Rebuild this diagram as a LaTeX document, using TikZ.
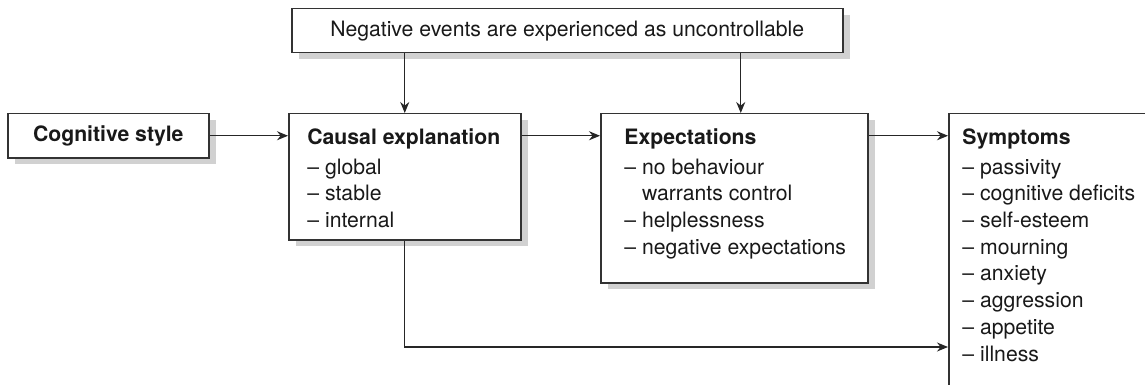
\documentclass[tikz,border=0pt]{standalone}
\usepackage{fontspec}
\setmainfont{TeX Gyre Heros}
\usetikzlibrary{arrows.meta,shadows}

\newcommand{\diagfont}{\fontsize{10.6}{13.35}\selectfont}

\tikzset{
  box/.style={draw=black!80, line width=0.75pt, fill=white, inner sep=0pt,
    anchor=north west,
    drop shadow={shadow xshift=3.5pt, shadow yshift=-3pt, opacity=1, fill=black!18}},
  boxtext/.style={anchor=north west, inner sep=0pt, align=left, text=black!90},
  arrow/.style={draw=black!85, line width=0.6pt, -{Stealth[length=5.5pt,width=4.5pt]}}
}

\begin{document}
\begin{tikzpicture}[x=0.5pt,y=-0.5pt,font=\diagfont]
  \useasboundingbox (0,0) rectangle (1145,385);
  \clip (0,0) rectangle (1145,385);
  % boxes
  \node[box, minimum width=275.5pt, minimum height=22pt, text=black!90] (events) at (291,8)
    {Negative events are experienced as uncontrollable};
  \node[box, minimum width=100.5pt, minimum height=22pt, text=black!90,
    font=\diagfont\bfseries] (style) at (7,113) {Cognitive style};
  \node[box, minimum width=116pt, minimum height=63pt] (causal) at (288,113) {};
  \node[box, minimum width=133.5pt, minimum height=84.5pt] (expect) at (600,113) {};
  \node[box, minimum width=102pt, minimum height=141pt] (symptoms) at (948,113) {};
  % box texts
  \node[boxtext] (causaltext) at (307,128)
    {\textbf{Causal explanation}\\[1.65pt] – global\\ – stable\\ – internal};
  \node[boxtext] (expecttext) at (624,128)
    {\textbf{Expectations}\\[1.65pt] – no behaviour\\ \phantom{– }warrants control\\
     – helplessness\\ – negative expectations};
  \node[boxtext] (symptomstext) at (962,128)
    {\textbf{Symptoms}\\[1.65pt] – passivity\\ – cognitive deficits\\ – self-esteem\\
     – mourning\\ – anxiety\\ – aggression\\ – appetite\\ – illness};
  % connectors
  \coordinate (expin) at ([xshift=3.25pt]expect.north);
  \coordinate (illness) at ([yshift=-117pt]symptoms.north west);
  \draw[arrow] (events.south -| causal.north) -- (causal.north);
  \draw[arrow] (expin |- events.south) -- (expin);
  \draw[arrow] (style.east) -- (style.east -| causal.west);
  \draw[arrow] (causal.east |- style.east) -- (expect.west |- style.east);
  \draw[arrow] (expect.east |- style.east) -- (symptoms.west |- style.east);
  \draw[arrow] (causal.south) |- (illness);
\end{tikzpicture}
\end{document}
